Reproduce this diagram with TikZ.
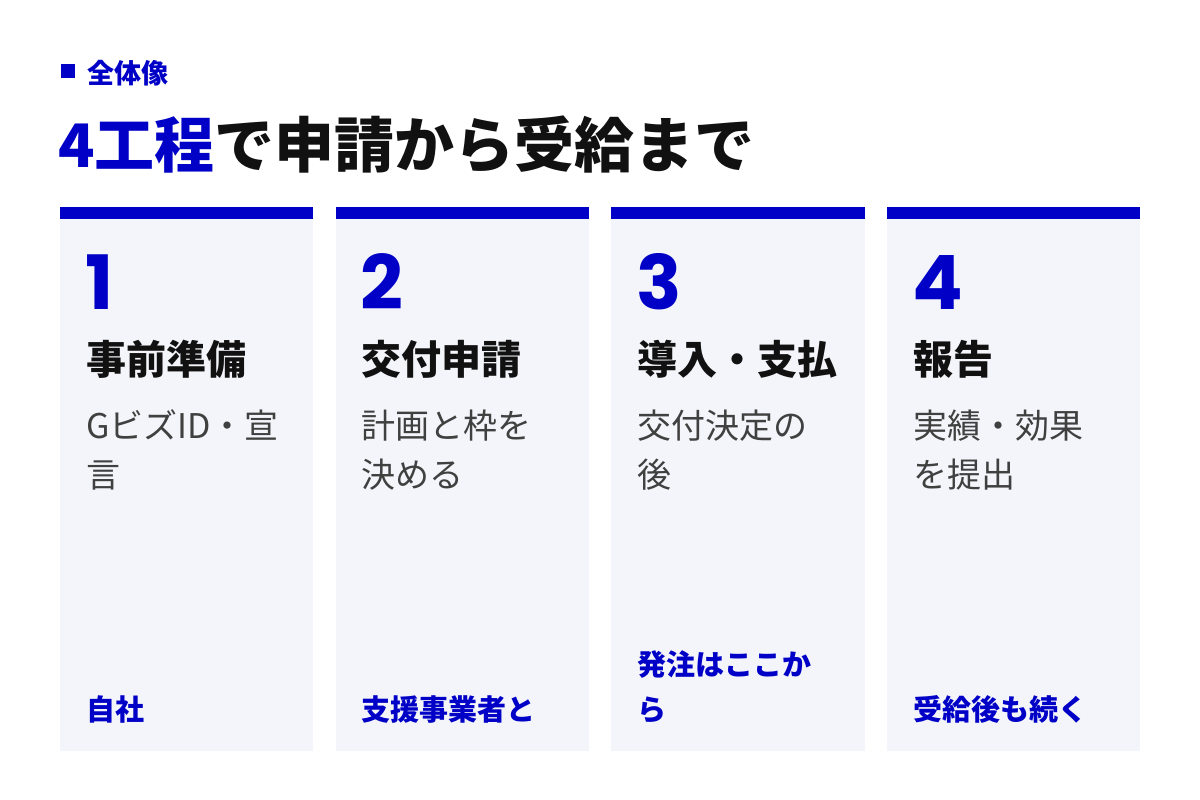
\documentclass[tikz,border=0pt]{standalone}
\usepackage{fontspec}
\setmainfont{Noto Sans CJK JP}
\newfontfamily\numfont{Poppins}
\usepackage{tikz}

\definecolor{stepblue}{RGB}{0,0,198}
\definecolor{cardbg}{RGB}{244,245,250}
\definecolor{inkblack}{RGB}{17,17,17}
\definecolor{inkgray}{RGB}{64,64,64}

\tikzset{
  txt/.style={anchor=base west, inner sep=0pt, outer sep=0pt},
  numtxt/.style={txt, text=stepblue, font=\fontsize{75}{75}\selectfont\numfont\bfseries},
  headtxt/.style={txt, text=inkblack, font=\fontsize{40}{40}\selectfont\bfseries},
  desctxt/.style={txt, text=inkgray, font=\fontsize{34}{34}\selectfont},
  foottxt/.style={txt, text=stepblue, font=\fontsize{29}{29}\selectfont\bfseries}
}

\begin{document}
\begin{tikzpicture}[x=1pt, y=-1pt]
\useasboundingbox (0,0) rectangle (1200,800);
%section label
\fill[stepblue] (61,64) rectangle +(14,14);
\node[txt, text=stepblue, font=\fontsize{27}{27}\selectfont\bfseries] (label) at (87,84) {全体像};
%title
\node[txt, text=inkblack, font=\fontsize{60}{60}\selectfont\bfseries] (title) at (58,167)
     {\textcolor{stepblue}{4工程}で申請から受給まで};
%cards
\foreach \i/\num/\head/\dA/\dB/\fA/\fB in {
  0/1/事前準備/GビズID・宣/言/{}/自社,
  1/2/交付申請/計画と枠を/決める/{}/支援事業者と,
  2/3/導入・支払/交付決定の/後/発注はここか/ら,
  3/4/報告/実績・効果/を提出/{}/受給後も続く}
{
  \fill[cardbg] (60 + \i * 275.67, 219) rectangle +(253.33, 532);
  \fill[stepblue] (60 + \i * 275.67, 207) rectangle +(253.33, 12);
  \node[numtxt] (num\num) at (85 + \i * 275.67, 309) {\num};
  \node[headtxt] (head\num) at (86 + \i * 275.67, 374) {\head};
  \node[desctxt] (descA\num) at (86 + \i * 275.67, 438) {\dA};
  \node[desctxt] (descB\num) at (86 + \i * 275.67, 487) {\dB};
  \node[foottxt] (footA\num) at (86 + \i * 275.67, 675) {\fA};
  \node[foottxt] (footB\num) at (86 + \i * 275.67, 720) {\fB};
}
\end{tikzpicture}
\end{document}
